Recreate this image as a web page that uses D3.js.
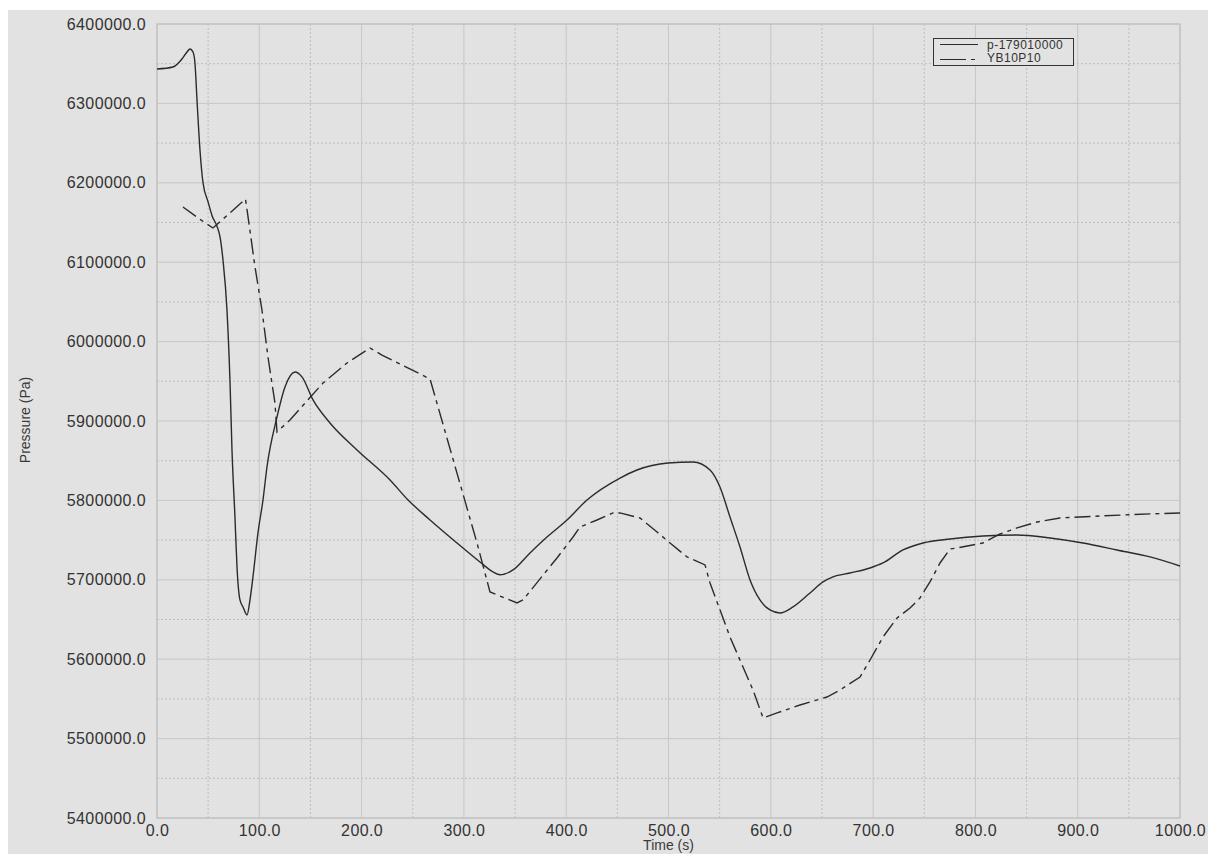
<!DOCTYPE html>
<html>
<head>
<meta charset="utf-8">
<script src="https://cdn.jsdelivr.net/npm/d3@7"></script>
<style>
  html, body { margin: 0; padding: 0; background: #ffffff; }
  svg { display: block; font-family: "Liberation Sans", Arial, sans-serif; }
</style>
</head>
<body>
<svg id="chart" width="1208" height="854"></svg>
<script>
// Time axis (s) and pressure axis (Pa)
const xTicks = [0, 100, 200, 300, 400, 500, 600, 700, 800, 900, 1000];
const yTicks = [5400000, 5500000, 5600000, 5700000, 5800000, 5900000, 6000000, 6100000, 6200000, 6300000, 6400000];
const seriesNames = ["p-179010000", "YB10P10"];

// p-179010000: time (s) and pressure (Pa)
const solidTime = [0, 15.6, 24.4, 29.3, 32.3, 35.2, 37.1, 39.1, 42, 45, 49.9, 54, 58.7, 61.6, 64.5, 68.4, 71.4, 73.3, 76.2, 78.2, 81.1, 84.1, 88, 90.9, 93.8, 98.7, 103.6, 107.5, 117.3, 125.1, 134.9, 141.7, 152.5, 169.1, 195.5, 227.8, 245.4, 266.9, 299.1, 315.7, 328.4, 335.3, 348, 364.6, 381.2, 400.8, 420.3, 452.6, 469.2, 499.5, 524, 540.6, 550.3, 560.1, 569.9, 579.7, 589.4, 599.2, 609, 621.7, 638.3, 651, 660.8, 677.4, 697, 709.7, 729.2, 748.8, 775.2, 807.4, 840.7, 873, 905.2, 938.4, 970.7, 1000];
const solidPressure = [6343300, 6345800, 6355900, 6364700, 6368500, 6364700, 6350900, 6304300, 6241300, 6199800, 6176000, 6158000, 6145000, 6131800, 6102800, 6039800, 5947900, 5863500, 5779100, 5716200, 5674600, 5665800, 5655700, 5674600, 5703600, 5759000, 5800500, 5842100, 5905000, 5942800, 5961700, 5955500, 5926500, 5897500, 5863500, 5825700, 5800500, 5775400, 5740100, 5722500, 5709900, 5706300, 5712400, 5733800, 5753900, 5775300, 5800500, 5828200, 5838300, 5847100, 5848400, 5838300, 5816900, 5779100, 5741300, 5699800, 5674600, 5662000, 5658200, 5665800, 5683400, 5697300, 5703600, 5708600, 5714900, 5721200, 5737600, 5746400, 5751400, 5755200, 5756500, 5752700, 5746400, 5737600, 5728800, 5717400];

// YB10P10: time (s) and pressure (Pa)
const dashTime = [25.4, 40.1, 54.7, 86.5, 89, 95.8, 102.6, 108.5, 115.3, 117.3, 130, 162.3, 185.7, 208.2, 219.9, 266.9, 312.8, 325.5, 351.9, 357.8, 391, 406.7, 413.5, 430.1, 445.7, 452.6, 472.1, 488.8, 501.5, 518.1, 535.7, 540.6, 560.1, 582.6, 592.4, 606.1, 628.5, 654.9, 667.6, 687.2, 697, 709.7, 723.4, 736.1, 745.8, 755.6, 765.4, 775.2, 782, 807.4, 824, 840.7, 860.2, 882.7, 921.8, 970.7, 1000];
const dashPressure = [6169500, 6155700, 6143100, 6179600, 6157000, 6094000, 6039800, 5980600, 5922700, 5886200, 5901300, 5947900, 5973000, 5992000, 5983100, 5952900, 5746400, 5684700, 5670800, 5674600, 5727500, 5753900, 5766500, 5775300, 5784200, 5784200, 5777900, 5760200, 5746400, 5728800, 5718700, 5696000, 5628000, 5561200, 5526000, 5532300, 5542300, 5552400, 5561200, 5577600, 5599000, 5628000, 5651900, 5664500, 5677100, 5697300, 5721200, 5738800, 5740100, 5746400, 5757700, 5765300, 5772800, 5777900, 5780400, 5783000, 5784200];

const svg = d3.select("#chart");
const W = 1208, H = 854;
const plot = { left: 157, right: 1180, top: 24, bottom: 818 };

const x = d3.scaleLinear().domain([0, 1000]).range([plot.left, plot.right]);
const y = d3.scaleLinear().domain([5400000, 6400000]).range([plot.bottom, plot.top]);

const ink = "#2b2b2b";
const gridColor = "#c6c6c6";

// panel background
svg.append("rect").attr("x", 8).attr("y", 10).attr("width", W - 8).attr("height", H - 10).attr("fill", "#e2e2e2");

// minor (dotted) grid at half steps
const g = svg.append("g");
const xMinor = d3.range(50, 1000, 100);
const yMinor = d3.range(5450000, 6400000, 100000);
g.selectAll("line.xm").data(xMinor).join("line")
  .attr("x1", d => x(d)).attr("x2", d => x(d)).attr("y1", plot.top).attr("y2", plot.bottom)
  .attr("stroke", "#bdbdbd").attr("stroke-width", 1).attr("stroke-dasharray", "2,2");
g.selectAll("line.ym").data(yMinor).join("line")
  .attr("x1", plot.left).attr("x2", plot.right).attr("y1", d => y(d)).attr("y2", d => y(d))
  .attr("stroke", "#bdbdbd").attr("stroke-width", 1).attr("stroke-dasharray", "2,2");

// major (solid) grid
g.selectAll("line.xg").data(xTicks).join("line")
  .attr("x1", d => x(d)).attr("x2", d => x(d)).attr("y1", plot.top).attr("y2", plot.bottom)
  .attr("stroke", gridColor).attr("stroke-width", 1);
g.selectAll("line.yg").data(yTicks).join("line")
  .attr("x1", plot.left).attr("x2", plot.right).attr("y1", d => y(d)).attr("y2", d => y(d))
  .attr("stroke", gridColor).attr("stroke-width", 1);

// plot frame
svg.append("rect").attr("x", plot.left).attr("y", plot.top)
  .attr("width", plot.right - plot.left).attr("height", plot.bottom - plot.top)
  .attr("fill", "none").attr("stroke", "#c0c0c0").attr("stroke-width", 1.2);

// axes
const fmt = d => d.toFixed(1);
const yAxis = svg.append("g").attr("transform", `translate(${plot.left},0)`)
  .call(d3.axisLeft(y).tickValues(yTicks).tickFormat(fmt).tickSize(0).tickPadding(11));
const xAxis = svg.append("g").attr("transform", `translate(0,${plot.bottom})`)
  .call(d3.axisBottom(x).tickValues(xTicks).tickFormat(fmt).tickSize(0).tickPadding(7));
[yAxis, xAxis].forEach(a => {
  a.select(".domain").remove();
  a.selectAll("text").attr("fill", "#333").style("font-size", "16px").style("letter-spacing", "0.4px")
    .style("font-family", "'Liberation Sans', Arial, sans-serif");
});

// axis titles
svg.append("text").attr("x", (plot.left + plot.right) / 2).attr("y", 850)
  .attr("text-anchor", "middle").attr("fill", "#3a3a3a").style("font-size", "14px").text("Time (s)");
svg.append("text").attr("transform", "translate(30,420) rotate(-90)")
  .attr("text-anchor", "middle").attr("fill", "#3a3a3a").style("font-size", "14px").text("Pressure (Pa)");

// series
const clip = svg.append("clipPath").attr("id", "plotclip").append("rect")
  .attr("x", plot.left).attr("y", plot.top).attr("width", plot.right - plot.left).attr("height", plot.bottom - plot.top);

const solidData = solidTime.map((t, i) => [t, solidPressure[i]]);
const dashData = dashTime.map((t, i) => [t, dashPressure[i]]);

const smooth = d3.line().x(d => x(d[0])).y(d => y(d[1])).curve(d3.curveMonotoneX);
const straight = d3.line().x(d => x(d[0])).y(d => y(d[1]));

const series = svg.append("g").attr("clip-path", "url(#plotclip)");
series.append("path").attr("d", smooth(solidData))
  .attr("fill", "none").attr("stroke", ink).attr("stroke-width", 1.4).attr("stroke-linejoin", "round");
series.append("path").attr("d", straight(dashData))
  .attr("fill", "none").attr("stroke", ink).attr("stroke-width", 1.4)
  .attr("stroke-dasharray", "16,5,4,5");

// legend
const lg = svg.append("g");
lg.append("rect").attr("x", 933.5).attr("y", 38.5).attr("width", 140).attr("height", 27)
  .attr("fill", "#e2e2e2").attr("stroke", "#333").attr("stroke-width", 1);
lg.append("line").attr("x1", 940).attr("x2", 978).attr("y1", 44.5).attr("y2", 44.5)
  .attr("stroke", ink).attr("stroke-width", 1.2);
lg.append("line").attr("x1", 940).attr("x2", 975).attr("y1", 59.5).attr("y2", 59.5)
  .attr("stroke", ink).attr("stroke-width", 1.2).attr("stroke-dasharray", "26,5,4");
lg.selectAll("text").data(seriesNames).join("text")
  .attr("x", 987).attr("y", (d, i) => 48.5 + i * 13.5)
  .attr("fill", "#333").style("font-size", "12px").style("letter-spacing", "0.5px")
  .text(d => d);
</script>
</body>
</html>
